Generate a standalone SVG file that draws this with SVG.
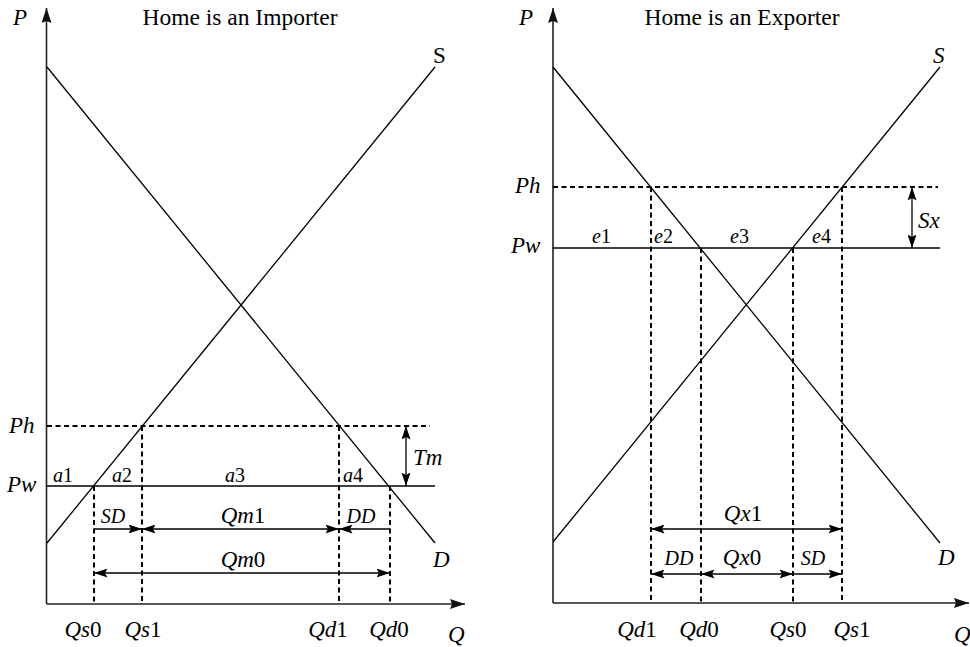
<svg xmlns="http://www.w3.org/2000/svg" width="970" height="647" viewBox="0 0 970 647">
<style>
text{font-family:"Liberation Serif","Times New Roman",serif;fill:#000;}
.h{font-size:23.5px;}
.t{font-size:23px;}
.s{font-size:20px;}
.i{font-style:italic;}
.ax{stroke:#222;stroke-width:1.6;fill:none;}
.cv{stroke:#000;stroke-width:1.3;fill:none;}
.ds{stroke:#000;stroke-width:2;stroke-dasharray:5,3.5;fill:none;}
.dim{stroke:#000;stroke-width:1.3;fill:none;}
</style>
<defs>
<marker id="axh" markerUnits="userSpaceOnUse" markerWidth="16" markerHeight="11" refX="15" refY="5" orient="auto"><path d="M0,0 L15,5 L0,10 L2,5 Z" fill="#111"/></marker>
<marker id="ah" markerUnits="userSpaceOnUse" markerWidth="14" markerHeight="9" refX="13.5" refY="4.5" orient="auto-start-reverse"><path d="M0,0 L13.5,4.5 L0,9 L2.5,4.5 Z" fill="#000"/></marker>
</defs>
<rect width="970" height="647" fill="#fff"/>

<!-- LEFT PANEL -->
<g id="left-axes">
<line class="ax" x1="46.5" y1="604" x2="46.5" y2="8" marker-end="url(#axh)"/>
<line class="ax" x1="46.5" y1="604" x2="465" y2="604" marker-end="url(#axh)"/>
<text class="t i" x="13" y="25">P</text>
<text class="t i" x="448" y="642">Q</text>
<text class="h" x="240" y="25" text-anchor="middle">Home is an Importer</text>
</g>
<g id="left-curves">
<line class="cv" x1="47" y1="67" x2="435" y2="543"/>
<line class="cv" x1="47" y1="543" x2="435" y2="67"/>
<text class="t" x="433" y="63">S</text>
<text class="t i" x="433" y="567">D</text>
</g>
<g id="left-prices">
<line class="ds" x1="47" y1="426" x2="430" y2="426"/>
<line class="cv" x1="47" y1="486" x2="435" y2="486"/>
<text class="t i" x="9" y="433">Ph</text>
<text class="t i" x="7" y="492">Pw</text>
<text class="s" x="53" y="482"><tspan class="i">a</tspan>1</text>
<text class="s" x="112" y="482"><tspan class="i">a</tspan>2</text>
<text class="s" x="225" y="482"><tspan class="i">a</tspan>3</text>
<text class="s" x="343" y="482"><tspan class="i">a</tspan>4</text>
</g>
<g id="left-quantities">
<line class="ds" x1="94" y1="486" x2="94" y2="604"/>
<line class="ds" x1="142" y1="426" x2="142" y2="604"/>
<line class="ds" x1="339" y1="426" x2="339" y2="604"/>
<line class="ds" x1="390" y1="486" x2="390" y2="604"/>
<text class="t" x="83" y="637" text-anchor="middle"><tspan class="i">Qs</tspan>0</text>
<text class="t" x="143" y="637" text-anchor="middle"><tspan class="i">Qs</tspan>1</text>
<text class="t" x="328" y="637" text-anchor="middle"><tspan class="i">Qd</tspan>1</text>
<text class="t" x="389" y="637" text-anchor="middle"><tspan class="i">Qd</tspan>0</text>
</g>
<g id="left-dimensions">
<line class="dim" x1="94" y1="529" x2="142" y2="529" marker-end="url(#ah)"/>
<line class="dim" x1="142" y1="529" x2="339" y2="529" marker-start="url(#ah)" marker-end="url(#ah)"/>
<line class="dim" x1="390" y1="529" x2="339" y2="529" marker-end="url(#ah)"/>
<line class="dim" x1="94" y1="573" x2="390" y2="573" marker-start="url(#ah)" marker-end="url(#ah)"/>
<line class="dim" x1="406" y1="426" x2="406" y2="486" marker-start="url(#ah)" marker-end="url(#ah)"/>
<text class="s i" x="113" y="523" text-anchor="middle">SD</text>
<text class="t" x="243" y="523" text-anchor="middle"><tspan class="i">Qm</tspan>1</text>
<text class="s i" x="361" y="523" text-anchor="middle">DD</text>
<text class="t" x="243" y="567" text-anchor="middle"><tspan class="i">Qm</tspan>0</text>
<text class="t i" x="413" y="465">Tm</text>
</g>

<!-- RIGHT PANEL -->
<g id="right-axes">
<line class="ax" x1="553" y1="603" x2="553" y2="8" marker-end="url(#axh)"/>
<line class="ax" x1="553" y1="603" x2="969" y2="603" marker-end="url(#axh)"/>
<text class="t i" x="519" y="25">P</text>
<text class="t i" x="954" y="642">Q</text>
<text class="h" x="742" y="25" text-anchor="middle">Home is an Exporter</text>
</g>
<g id="right-curves">
<line class="cv" x1="553" y1="67" x2="940" y2="543"/>
<line class="cv" x1="553" y1="542" x2="940" y2="67"/>
<text class="t i" x="933" y="63">S</text>
<text class="t i" x="938" y="565">D</text>
</g>
<g id="right-prices">
<line class="ds" x1="553" y1="187" x2="938" y2="187"/>
<line class="cv" x1="553" y1="248" x2="940" y2="248"/>
<text class="t i" x="515" y="193">Ph</text>
<text class="t i" x="511" y="253">Pw</text>
<text class="s" x="592" y="243"><tspan class="i">e</tspan>1</text>
<text class="s" x="654" y="243"><tspan class="i">e</tspan>2</text>
<text class="s" x="730" y="243"><tspan class="i">e</tspan>3</text>
<text class="s" x="812" y="243"><tspan class="i">e</tspan>4</text>
</g>
<g id="right-quantities">
<line class="ds" x1="651" y1="187" x2="651" y2="603"/>
<line class="ds" x1="701" y1="248" x2="701" y2="603"/>
<line class="ds" x1="793" y1="248" x2="793" y2="603"/>
<line class="ds" x1="842" y1="187" x2="842" y2="603"/>
<text class="t" x="637" y="637" text-anchor="middle"><tspan class="i">Qd</tspan>1</text>
<text class="t" x="699" y="637" text-anchor="middle"><tspan class="i">Qd</tspan>0</text>
<text class="t" x="788" y="637" text-anchor="middle"><tspan class="i">Qs</tspan>0</text>
<text class="t" x="852" y="637" text-anchor="middle"><tspan class="i">Qs</tspan>1</text>
</g>
<g id="right-dimensions">
<line class="dim" x1="651" y1="529" x2="842" y2="529" marker-start="url(#ah)" marker-end="url(#ah)"/>
<line class="dim" x1="701" y1="574" x2="651" y2="574" marker-end="url(#ah)"/>
<line class="dim" x1="701" y1="574" x2="793" y2="574" marker-start="url(#ah)" marker-end="url(#ah)"/>
<line class="dim" x1="793" y1="574" x2="842" y2="574" marker-end="url(#ah)"/>
<line class="dim" x1="912" y1="187" x2="912" y2="248" marker-start="url(#ah)" marker-end="url(#ah)"/>
<text class="t" x="743" y="521" text-anchor="middle"><tspan class="i">Qx</tspan>1</text>
<text class="s i" x="679" y="565" text-anchor="middle">DD</text>
<text class="t" x="742" y="565" text-anchor="middle"><tspan class="i">Qx</tspan>0</text>
<text class="s i" x="813" y="565" text-anchor="middle">SD</text>
<text class="t i" x="918" y="228">Sx</text>
</g>
</svg>
